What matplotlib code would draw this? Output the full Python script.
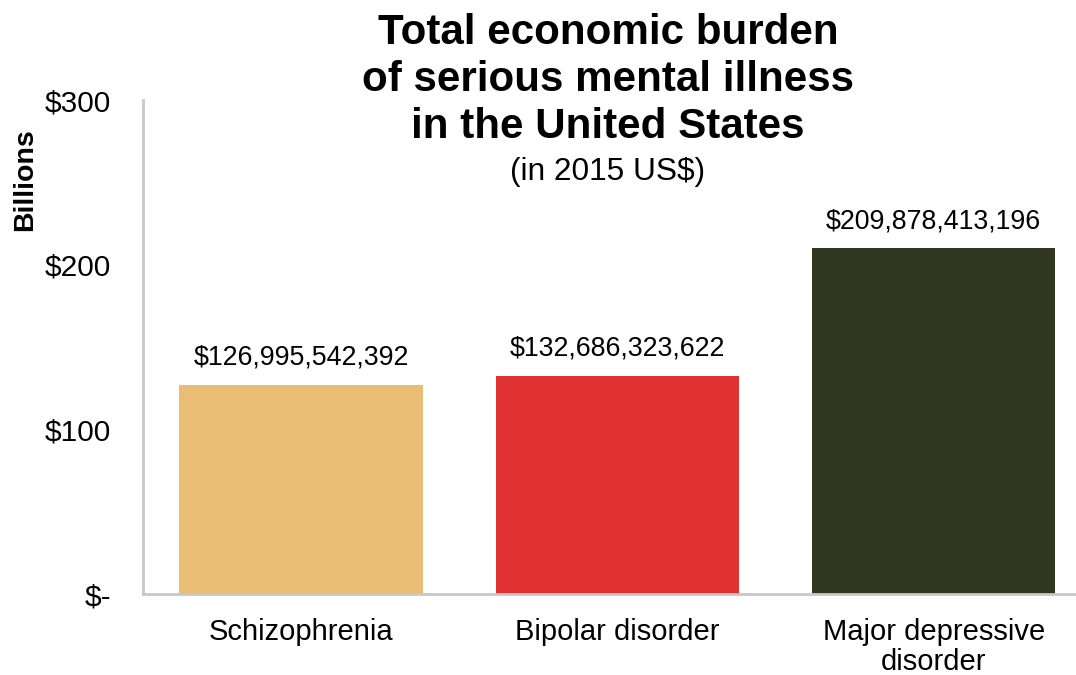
import matplotlib
matplotlib.use('Agg')
import matplotlib.pyplot as plt

plt.rcParams['font.family'] = ['Liberation Sans', 'DejaVu Sans']

categories = ['Schizophrenia', 'Bipolar disorder', 'Major depressive\ndisorder']
burden_usd = [126995542392, 132686323622, 209878413196]
bar_colors = ['#E9BD76', '#E03232', '#2F3720']
ytick_vals = [0, 100, 200, 300]
ytick_labels = ['$-', '$100', '$200', '$300']

billions = [v / 1e9 for v in burden_usd]
x = list(range(len(categories)))

fig = plt.figure(figsize=(10.76, 6.75), dpi=100)
ax = fig.add_axes([143 / 1076, 81 / 675, 933 / 1076, 494 / 675])

bars = ax.bar(x, billions, width=0.77, color=bar_colors)

# value labels above the bars
for b, v in zip(bars, burden_usd):
    ax.annotate(f'${v:,}', (b.get_x() + b.get_width() / 2, b.get_height()),
                xytext=(0, 10), textcoords='offset points',
                ha='center', va='bottom', fontsize=19.3)

ax.set_xlim(-0.5, 2.45)
ax.set_ylim(0, 300)
ax.set_yticks(ytick_vals)
ax.set_yticklabels(ytick_labels, fontsize=21.5)
ax.set_xticks(x)
ax.set_xticklabels(categories, fontsize=21, linespacing=1.12)
ax.tick_params(axis='y', length=0, pad=23)
ax.tick_params(axis='x', length=0, pad=17)

for side in ['top', 'right']:
    ax.spines[side].set_visible(False)
for side in ['left', 'bottom']:
    ax.spines[side].set_color('#c8c8c8')
    ax.spines[side].set_linewidth(2)

fig.text(25 / 1076, 1 - 180 / 675, 'Billions', rotation=90, fontsize=20.5,
         fontweight='bold', ha='center', va='center')

fig.text(608 / 1076, 1 - 13 / 675,
         'Total economic burden\nof serious mental illness\nin the United States',
         fontsize=30.3, fontweight='bold', ha='center', va='top', linespacing=1.22)
fig.text(608 / 1076, 1 - 172 / 675, '(in 2015 US$)', fontsize=22.8,
         ha='center', va='center')

fig.savefig('out.png', dpi=100)
